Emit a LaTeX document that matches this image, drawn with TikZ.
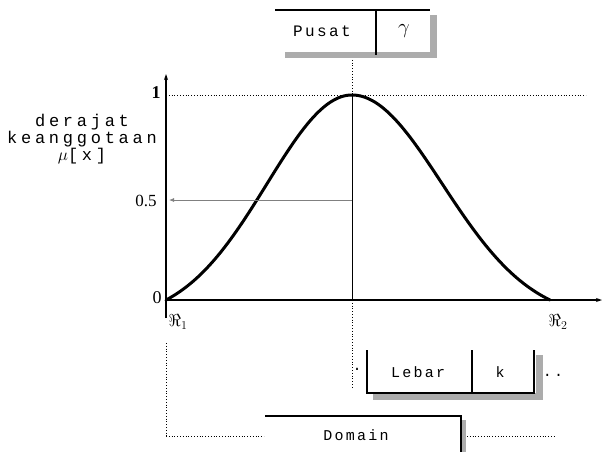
\documentclass[tikz,border=0pt]{standalone}
\usepackage{fontspec}
\setmainfont{Liberation Serif}
\newfontfamily\monofont[LetterSpace=15]{Liberation Mono}
\newfontfamily\widemono[LetterSpace=22]{Liberation Mono}
\usetikzlibrary{arrows.meta}
\begin{document}
\begin{tikzpicture}[x=1pt,y=-1pt,
  lbl/.style={font=\monofont\fontsize{15}{16}\selectfont, inner sep=0pt},
  num/.style={font=\fontsize{14}{16}\selectfont, inner sep=0pt},
  axis/.style={line width=1.3pt, -{Stealth[length=6pt,width=4pt]}},
  dotline/.style={dotted, line width=0.8pt},
  boxline/.style={line width=1.3pt},
  shadow/.style={fill=gray!65, draw=none}]
\useasboundingbox (0,0) rectangle (604,459);
% axes
\coordinate (o) at (166,300);
\coordinate (ytop) at (166,74);
\coordinate (ybot) at (166,318);
\coordinate (xend) at (602,300);
\draw[axis] (ybot) -- (ytop);
\draw[axis] (o) -- (xend);
% level 1 dotted line
\coordinate (one) at (166,95);
\coordinate (oneR) at (586,95);
\draw[dotline] (one) -- (oneR);
% curve
\draw[line width=3pt, line cap=round, line join=round]
  plot[domain=166:352, samples=70, smooth] (\x, {300 - 205*(exp(-((\x-352)/85)^2/2) - 0.0913)/0.9087})
  -- plot[domain=352:550, samples=70, smooth] (\x, {300 - 205*(exp(-((\x-352)/90)^2/2) - 0.0889)/0.9111});
% centre line
\coordinate (peak) at (352,95);
\coordinate (cbase) at (352,300);
\coordinate (ctop) at (352,57);
\coordinate (cbot) at (352,388);
\draw[line width=0.8pt] (peak) -- (cbase);
\draw[dotline] (ctop) -- (peak);
\draw[dotline] (cbase) -- (cbot);
% half level arrow
\coordinate (half) at (352,200);
\coordinate (halfy) at (169,200);
\draw[gray, line width=0.8pt, -{Latex[length=5pt,width=4pt]}] (half) -- (halfy);
% labels
\node[num, font=\bfseries\fontsize{18}{18}\selectfont] (l1) at (156,93) {1};
\node[num, font=\fontsize{18}{18}\selectfont] (l0) at (157,298) {0};
\node[num, font=\fontsize{17}{17}\selectfont] (l05) at (146,201) {0.5};
\node[lbl, font=\widemono\fontsize{17}{17}\selectfont, align=center] (mu) at (82,139) {derajat\\keanggotaan\\$\mu$[x]};
\node[lbl, font=\fontsize{18}{18}\selectfont] (r1) at (178,322) {$\Re_1$};
\node[lbl, font=\fontsize{18}{18}\selectfont] (r2) at (558,322) {$\Re_2$};
% Pusat box
\fill[shadow] (430,15) rectangle (437,58);
\fill[shadow] (285,52) rectangle (437,58);
\draw[boxline] (275,10) -- (430,10);
\draw[boxline] (376,10) -- (376,55);
\node[lbl, font=\monofont\fontsize{16}{16}\selectfont] (pusat) at (322,31) {Pusat};
\node[lbl, font=\fontsize{20}{20}\selectfont] (gam) at (404,31) {$\gamma$};
% Lebar box
\fill[shadow] (536,355) rectangle (543,400);
\fill[shadow] (373,393) rectangle (543,400);
\draw[boxline] (367,350) -- (367,393) -- (534,393) -- (534,350);
\draw[boxline] (472,350) -- (472,393);
\node[lbl] (lebar) at (418,372) {Lebar};
\node[lbl] (k) at (500,372) {k};
\node[lbl] (dl) at (357,369) {.};
\node[lbl] (dr) at (553,375) {..};
% Domain box
\fill[shadow] (460,420) rectangle (466,452);
\draw[boxline] (265,416) -- (461,416) -- (461,452);
\node[lbl] (domain) at (356,435) {Domain};
\coordinate (dleft) at (264,436);
\coordinate (dright) at (467,436);
\coordinate (dl1) at (166,436);
\coordinate (dr1) at (556,436);
\coordinate (vtop) at (166,343);
\draw[dotline] (vtop) -- (dl1);
\draw[dotline] (dl1) -- (dleft);
\draw[dotline] (dright) -- (dr1);
\end{tikzpicture}
\end{document}
